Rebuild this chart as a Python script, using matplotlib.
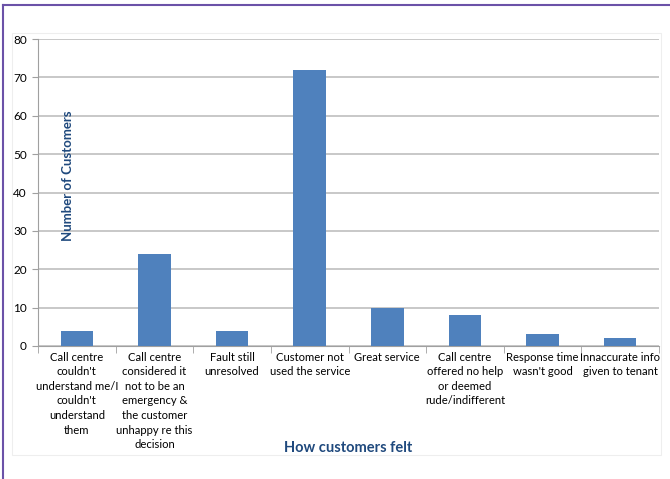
import matplotlib
matplotlib.use("Agg")
import matplotlib.pyplot as plt
from matplotlib.patches import Rectangle
from matplotlib.lines import Line2D

categories = [
    "Call centre\ncouldn't\nunderstand me/I\ncouldn't\nunderstand\nthem",
    "Call centre\nconsidered it\nnot to be an\nemergency &\nthe customer\nunhappy re this\ndecision",
    "Fault still\nunresolved",
    "Customer not\nused the service",
    "Great service",
    "Call centre\noffered no help\nor deemed\nrude/indifferent",
    "Response time\nwasn't good",
    "Innaccurate info\ngiven to tenant",
]
values = [4, 24, 4, 72, 10, 8, 3, 2]
yticks = [0, 10, 20, 30, 40, 50, 60, 70, 80]

plt.rcParams['font.family'] = ['Lato', 'DejaVu Sans']

W, H = 670, 479
fig = plt.figure(figsize=(W / 100, H / 100), dpi=100)
fig.patch.set_facecolor("white")

# faint outer chart box (behind everything)
fig.add_artist(Rectangle((12 / W, 1 - 455 / H), (661 - 12) / W, (455 - 33) / H,
                         transform=fig.transFigure, fill=False,
                         edgecolor="#EEEEEE", linewidth=0.8, zorder=-5))
# purple border (top and left)
fig.add_artist(Line2D([3 / W, 1], [1 - 5 / H, 1 - 5 / H], transform=fig.transFigure,
                      color="#6B52A8", linewidth=1.5, zorder=-5))
fig.add_artist(Line2D([3 / W, 3 / W], [0, 1 - 5 / H], transform=fig.transFigure,
                      color="#6B52A8", linewidth=1.5, zorder=-5))

ax = fig.add_axes([38 / W, 1 - 346 / H, (659 - 38) / W, (346 - 39) / H])
ax.set_zorder(2)
ax.patch.set_alpha(0)
x = list(range(len(categories)))
ax.bar(x, values, width=0.42, color="#4F81BD", zorder=3)

ax.set_xlim(-0.5, len(categories) - 0.5)
ax.set_ylim(0, 80)
ax.set_yticks(yticks)
ax.set_yticklabels([str(v) for v in yticks], fontsize=8.5)
ax.grid(axis="y", color="#BFBFBF", linewidth=1.2, zorder=0)
ax.set_axisbelow(True)

ax.set_xticks(x)
ax.set_xticklabels(categories, fontsize=8.1, linespacing=1.4, va="top")
ax.tick_params(axis="x", length=0, pad=4)
ax.set_xticks([i + 0.5 for i in range(-1, len(categories))], minor=True)
ax.tick_params(axis="x", which="minor", length=5, color="#A0A0A0")
ax.tick_params(axis="y", length=4, color="#A0A0A0", pad=4)

for s in ["top", "right"]:
    ax.spines[s].set_visible(False)
ax.spines["left"].set_color("#A0A0A0")
ax.spines["bottom"].set_color("#A0A0A0")

ax.text(68 / W, 1 - 176 / H, "Number of Customers", transform=fig.transFigure,
        rotation=90, ha="center", va="center", fontsize=9.5, fontweight="bold",
        color="#1F497D")
fig.text(348 / W, 1 - 448 / H, "How customers felt", ha="center", va="center",
         fontsize=10.5, fontweight="bold", color="#1F497D")

fig.savefig("out.png", dpi=100)
